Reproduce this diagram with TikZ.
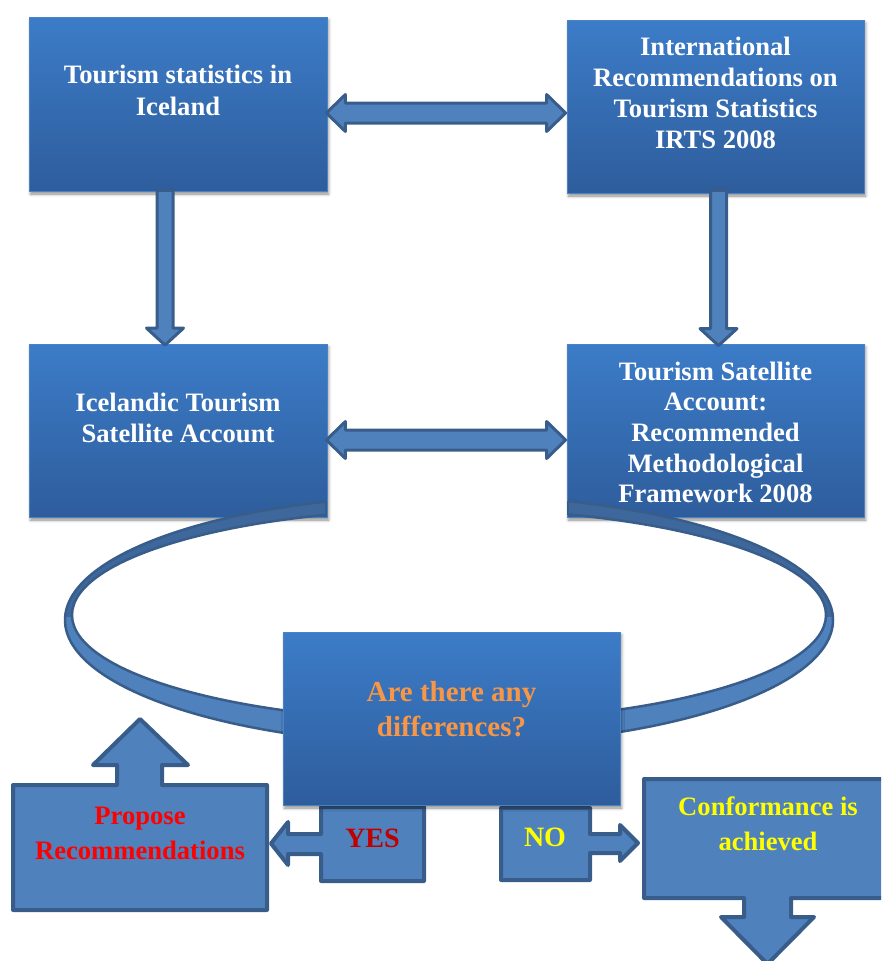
\documentclass[tikz,border=0pt]{standalone}
\usepackage{fontspec}
\setmainfont{Liberation Serif}
\usetikzlibrary{calc,shadows.blur}
\definecolor{boxtop}{HTML}{3C7CC8}
\definecolor{boxbot}{HTML}{2E5D9C}
\definecolor{boxedge}{HTML}{4A82C4}
\definecolor{arrfill}{HTML}{4F81BD}
\definecolor{arrline}{HTML}{385D8A}
\definecolor{ringback}{HTML}{3E679C}
\definecolor{qorange}{HTML}{F79646}
\definecolor{yesred}{HTML}{C00000}
\definecolor{propred}{HTML}{FF0000}
\definecolor{noyellow}{HTML}{FFFF00}

\newcommand\mltext[4]{\parbox[t]{#3}{\centering\fontsize{#1}{#2}\selectfont #4}}
% horizontal double block arrow between two tip coordinates
\newcommand\hdblarrow[2]{%
  \draw[blk] (#1) -- ($(#1)+(19,-18.5)$) -- ($(#1)+(19,-10)$) -- ($(#2)+(-19,-10)$)
    -- ($(#2)+(-19,-18.5)$) -- (#2) -- ($(#2)+(-19,18.5)$) -- ($(#2)+(-19,10)$)
    -- ($(#1)+(19,10)$) -- ($(#1)+(19,18.5)$) -- cycle;}
% vertical down block arrow from shaft top to tip
\newcommand\vdownarrow[2]{%
  \draw[blk] ($(#1)+(-8,0)$) -- ($(#1)+(8,0)$) -- ($(#2)+(8,-17)$) -- ($(#2)+(18.5,-17)$)
    -- (#2) -- ($(#2)+(-18.5,-17)$) -- ($(#2)+(-8,-17)$) -- cycle;}

\tikzset{
  bluebox/.style={rectangle, inner sep=0pt, top color=boxtop, bottom color=boxbot,
    draw=boxedge, line width=0.8pt,
    blur shadow={shadow xshift=1.5pt, shadow yshift=-3pt, shadow blur radius=3pt, shadow opacity=45}},
  blk/.style={fill=arrfill, draw=arrline, line width=3pt, line join=round},
  callout/.style={fill=arrfill, draw=arrline, line width=4pt, line join=round},
  lbl/.style={anchor=base, inner sep=0pt, font=\bfseries},
  ringedge/.style={draw=arrline, line width=2.5pt},
}

\begin{document}
\begin{tikzpicture}[x=1pt,y=-1pt]
\useasboundingbox (0,0) rectangle (881,961);
\clip (0,0) rectangle (881,961);

% upper boxes
\node[bluebox, minimum width=298pt, minimum height=174pt] (b1) at (178,104) {};
\node[bluebox, minimum width=297pt, minimum height=173pt] (b2) at (715.5,106.5) {};
\node[bluebox, minimum width=298pt, minimum height=173pt] (b3) at (178,430.5) {};
\node[bluebox, minimum width=297pt, minimum height=173pt] (b4) at (715.5,430.5) {};

% block arrows between the boxes
\coordinate (a1l) at ($(b1.east)+(-1,9)$);
\coordinate (a1r) at ($(b2.west)+(-1,6.5)$);
\hdblarrow{a1l}{a1r}
\coordinate (a2l) at ($(b3.east)+(-1,9.5)$);
\coordinate (a2r) at ($(b4.west)+(-1,9.5)$);
\hdblarrow{a2l}{a2r}
\coordinate (v1s) at ($(b1.south)+(-13,-1)$);
\coordinate (v1t) at ($(b3.north)+(-13,1.5)$);
\vdownarrow{v1s}{v1t}
\coordinate (v2s) at ($(b2.south)+(3,-3)$);
\coordinate (v2t) at ($(b4.north)+(3,2)$);
\vdownarrow{v2s}{v2t}

% ribbon ring
\begin{scope}
  \clip (0,0) rectangle (326,961) (568,0) rectangle (881,961) (0,560) rectangle (881,961);
  \begin{scope}
    \clip (0,0) rectangle (881,617);
    \fill[ringback, even odd rule] (449,620) ellipse [x radius=384, y radius=125]
      (449,615) ellipse [x radius=377, y radius=106];
  \end{scope}
  \begin{scope}
    \clip (0,617) rectangle (881,961);
    \fill[arrfill, even odd rule] (449,620) ellipse [x radius=384, y radius=125]
      (449,615) ellipse [x radius=377, y radius=106];
  \end{scope}
  \draw[ringedge] (449,620) ellipse [x radius=384, y radius=125];
  \draw[ringedge] (449,615) ellipse [x radius=377, y radius=106];
\end{scope}
\draw[arrline, line width=2pt] (326,502) -- (326,514.5);
\draw[arrline, line width=2pt] (568,501) -- (568,514.5);

% callouts
\draw[callout] (13,785) -- (117,785) -- (117,765) -- (93,765) -- (140,719) -- (188,765)
  -- (162,765) -- (162,785) -- (267,785) -- (267,910) -- (13,910) -- cycle;
\draw[callout] (321,807) -- (424,807) -- (424,881) -- (321,881) -- (321,854) -- (288,854)
  -- (288,865) -- (271,843.5) -- (288,822) -- (288,834) -- (321,834) -- cycle;
\draw[callout] (501,808) -- (590,808) -- (590,834) -- (620,834) -- (620,825) -- (638,843)
  -- (620,861) -- (620,853) -- (590,853) -- (590,880) -- (501,880) -- cycle;
\draw[callout] (644,779) -- (890,779) -- (890,898) -- (791,898) -- (791,917) -- (814,917)
  -- (767.5,964) -- (721,917) -- (744,917) -- (744,898) -- (644,898) -- cycle;

% decision box
\node[bluebox, minimum width=337pt, minimum height=173pt] (b5) at (451.5,718.5) {};

% texts
\node[lbl, text=white] (t1) at (178,83)
  {\mltext{26.6pt}{32.4pt}{290pt}{Tourism statistics in\\Iceland}};
\node[lbl, text=white] (t2) at (715.5,55)
  {\mltext{26.6pt}{31.3pt}{290pt}{International\\Recommendations on\\Tourism Statistics\\IRTS 2008}};
\node[lbl, text=white] (t3) at (178,411)
  {\mltext{26.6pt}{31pt}{290pt}{Icelandic Tourism\\Satellite Account}};
\node[lbl, text=white] (t4) at (715.5,380)
  {\mltext{26.6pt}{30.7pt}{290pt}{Tourism Satellite\\Account:\\Recommended\\Methodological\\Framework 2008}};
\node[lbl, text=qorange] (t5) at (451.5,701.7)
  {\mltext{29pt}{34.3pt}{330pt}{Are there any\\differences?}};
\node[lbl, text=yesred, font=\bfseries\fontsize{28pt}{34pt}\selectfont] (tyes) at (372.5,847) {YES};
\node[lbl, text=noyellow, font=\bfseries\fontsize{28pt}{34pt}\selectfont] (tno) at (545,846) {NO};
\node[lbl, text=propred] (tprop) at (140,824)
  {\mltext{26.6pt}{35pt}{250pt}{Propose\\Recommendations}};
\node[lbl, text=noyellow] (tconf) at (768,815)
  {\mltext{26.6pt}{35pt}{230pt}{Conformance is\\achieved}};
\end{tikzpicture}
\end{document}
